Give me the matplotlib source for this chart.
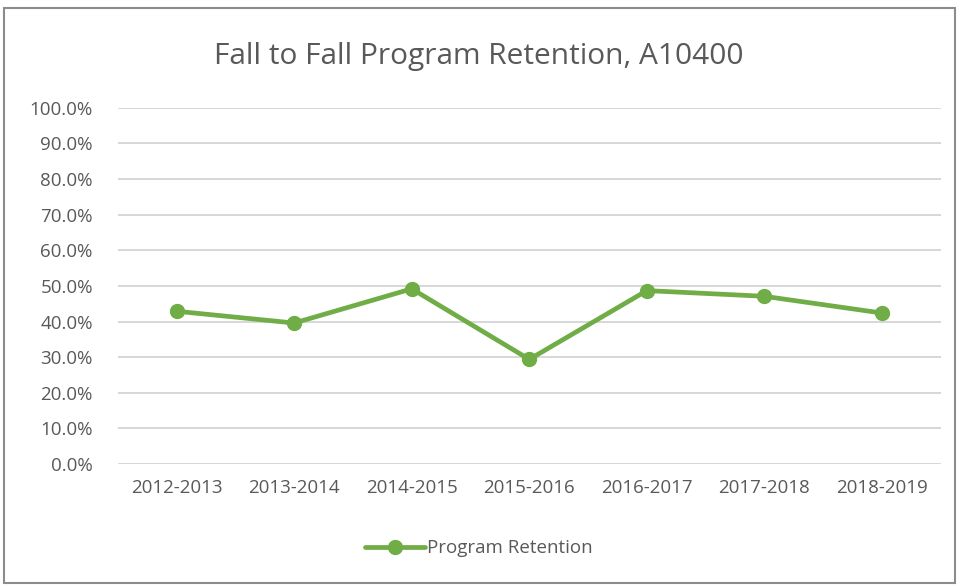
import matplotlib.pyplot as plt
from matplotlib.patches import Rectangle
from matplotlib.ticker import PercentFormatter

# Datos
years = ['2012-2013', '2013-2014', '2014-2015', '2015-2016',
         '2016-2017', '2017-2018', '2018-2019']
retention = [42.9, 39.6, 49.2, 29.4, 48.7, 47.1, 42.4]

plt.rcParams['font.family'] = ['Open Sans', 'DejaVu Sans']
gray = '#595959'

fig = plt.figure(figsize=(9.58, 5.86), dpi=100)
ax = fig.add_axes([0.123, 0.208, 0.859, 0.608])

x = range(len(years))
ax.plot(x, retention, color='#70AD47', linewidth=3.4, marker='o',
        markersize=10, label='Program Retention', solid_capstyle='round')

ax.set_xlim(-0.5, len(years) - 0.5)
ax.set_ylim(0, 100)
ax.set_yticks(range(0, 101, 10))
ax.yaxis.set_major_formatter(PercentFormatter(decimals=1))
ax.set_xticks(list(x))
ax.set_xticklabels(years)
ax.tick_params(length=0, labelsize=13.5, colors=gray)
ax.tick_params(axis='x', pad=11)
ax.tick_params(axis='y', pad=18)
ax.grid(axis='y', color='#d4d4d4', linewidth=1.3)
ax.set_axisbelow(True)
for s in ax.spines.values():
    s.set_visible(False)

fig.text(0.5, 0.903, 'Fall to Fall Program Retention, A10400', ha='center',
         va='center', fontsize=21.5, color=gray)

fig.legend(loc='center', bbox_to_anchor=(0.5, 0.064), frameon=False,
           fontsize=13.5, labelcolor=gray, handlelength=3.2, handletextpad=0.1)

fig.patches.append(Rectangle((0.004, 0.005), 0.993, 0.981, transform=fig.transFigure,
                             fill=False, edgecolor='#8c8c8c', linewidth=1.5))

fig.savefig('out.png', dpi=100)
